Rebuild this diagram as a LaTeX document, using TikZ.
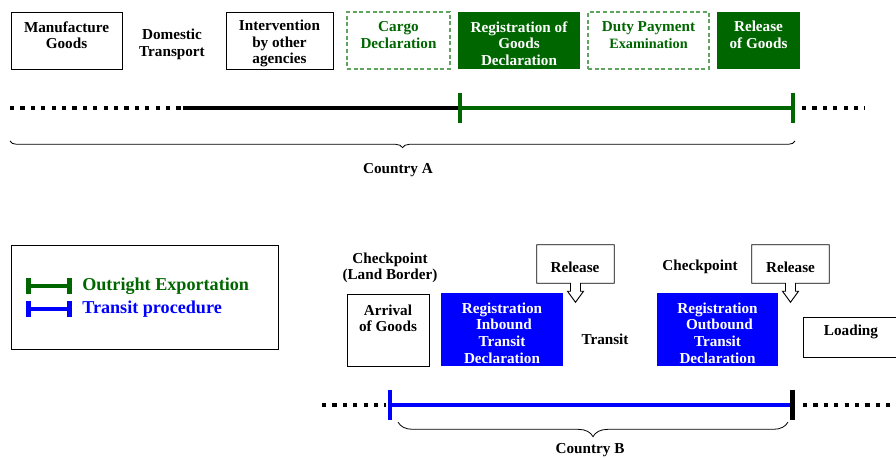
\documentclass[tikz,border=0pt]{standalone}
\usepackage{fontspec}
\setmainfont{Liberation Serif}
\usepackage{xcolor}
\usepackage{tikz}
\usetikzlibrary{calc, fit, arrows.meta, decorations.pathreplacing, positioning}
\definecolor{dgreen}{RGB}{0, 102, 0}
\definecolor{lgreen}{RGB}{95, 165, 95}
\definecolor{pblue}{RGB}{0, 0, 255}
\tikzset{
    boxnode/.style = {draw, rectangle, fill=none, inner sep = 0em, line width=0.7pt},
    dashnode/.style = {draw=lgreen, rectangle, inner sep = 0em, line width=0.8pt, dash pattern=on 3pt off 2pt},
    greennode/.style = {fill=dgreen, rectangle, inner sep = 0em},
    bluenode/.style = {fill=pblue, rectangle, inner sep = 0em},
    textnode/.style = {draw=none, fill=none, rectangle, inner sep = 0em, align=center,
      font=\fontsize{11.4}{12.4}\selectfont\bfseries},
    legendnode/.style = {textnode, anchor=west, font=\fontsize{13.6}{16}\selectfont\bfseries},
    dotline/.style = {line width=3.2pt, dash pattern=on 3.2pt off 4.6pt},
    callout/.style = {line width=0.7pt},
    bracenode/.style = {decorate, line width=0.6pt},
    every text node part/.style={align=center}
}

\begin{document}
\begin{tikzpicture}[x=0.75pt, y=-0.75pt]
\useasboundingbox (0,0) rectangle (896,457);

% Country A
\node [boxnode, name=mfgbox, fit={(11,12) (122,69)}] {};
\node [textnode, name=mfg] at (66.5,35) {Manufacture\\Goods};
\node [textnode, name=dom] at (172,44.5) {Domestic\\Transport};
\node [boxnode, name=agcbox, fit={(226,12) (333,69)}] {};
\node [textnode, name=agc] at (279.5,43.5) {Intervention\\by other\\agencies};
\node [dashnode, name=cargobox, fit={(347,12) (450,69)}] {};
\node [textnode, name=cargo, text=dgreen] at (398.5,35) {Cargo\\Declaration};
\node [greennode, name=regbox, fit={(458,12) (580,69)}] {};
\node [textnode, name=reg, text=white] at (519,43.5) {Registration of\\Goods\\Declaration};
\node [dashnode, name=dutybox, fit={(588,12) (709,69)}] {};
\node [textnode, name=duty, text=dgreen] at (648.5,35) {Duty Payment\\{\fontsize{10.7}{12}\selectfont Examination}};
\node [greennode, name=relbox, fit={(717,12) (800,69)}] {};
\node [textnode, name=rel, text=white] at (758.5,35) {Release\\of Goods};

\coordinate (a0) at (10,108);
\coordinate (a1) at (183,108);
\coordinate (a2) at (458,108);
\coordinate (a3) at (795,108);
\coordinate (a4) at (802,108);
\coordinate (a5) at (865,108);
\draw [dotline] (a0) -- (a1);
\draw [line width=3.5pt] (a1) -- (a2);
\draw [dgreen, line width=2.5pt, {Bar[width=23pt, line width=3pt]}-{Bar[width=23pt, line width=3pt]}] (a2) -- (a3);
\draw [dotline] (a4) -- (a5);

\coordinate (ba0) at (10,141);
\coordinate (ba1) at (795,141);
\draw [bracenode, decoration={brace, mirror, amplitude=5pt}] (ba0) -- (ba1);
\node [textnode, name=ctya] at (398,170) {Country A};

% legend
\node [boxnode, name=legbox, fit={(11,245) (278,349)}] {};
\coordinate (lg0) at (26,286);
\coordinate (lg1) at (72,286);
\coordinate (lb0) at (26,309);
\coordinate (lb1) at (72,309);
\draw [dgreen, line width=3.5pt, {Bar[width=12pt, line width=3.5pt]}-{Bar[width=12pt, line width=3.5pt]}] (lg0) -- (lg1);
\draw [pblue, line width=3.5pt, {Bar[width=12pt, line width=3.5pt]}-{Bar[width=12pt, line width=3.5pt]}] (lb0) -- (lb1);
\node [legendnode, name=legout, text=dgreen] at (82,286) {Outright Exportation};
\node [legendnode, name=legtr, text=pblue] at (82,309) {Transit procedure};

% Country B
\node [textnode, name=chk1] at (390,268) {Checkpoint\\(Land Border)};
\node [boxnode, name=arrbox, fit={(347,294) (429,366)}] {};
\node [textnode, name=arr] at (388,318.5) {Arrival\\of Goods};
\node [bluenode, name=inbox, fit={(441,293) (563,366)}] {};
\node [textnode, name=inb, text=white] at (502,333) {Registration\\\ Inbound\\Transit\\Declaration};
\node [name=rel1, inner sep=0em, fit={(537,245) (614,283)}] {};
\node [textnode, name=rel1txt] at (575,267) {Release};
\draw [callout] (rel1.south west) -- (rel1.north west) -- (rel1.north east) -- (rel1.south east)
  -- ($(rel1.south)+(5,0)$) -- ++(0,8) -- ++(3,0) -- ++(-8,11) -- ++(-8,-11) -- ++(3,0) -- ++(0,-8) -- cycle;
\node [textnode, name=trs] at (605,339) {Transit};
\node [textnode, name=chk2] at (700,267) {Checkpoint};
\node [name=rel2, inner sep=0em, fit={(752,245) (829,283)}] {};
\node [textnode, name=rel2txt] at (790.5,267) {Release};
\draw [callout] (rel2.south west) -- (rel2.north west) -- (rel2.north east) -- (rel2.south east)
  -- ($(rel2.south)+(5,0)$) -- ++(0,8) -- ++(3,0) -- ++(-8,11) -- ++(-8,-11) -- ++(3,0) -- ++(0,-8) -- cycle;
\node [bluenode, name=outbox, fit={(657,293) (778,366)}] {};
\node [textnode, name=outb, text=white] at (717.5,333) {Registration\\\ Outbound\\Transit\\Declaration};
\node [boxnode, name=loadbox, fit={(803,317) (905,357)}] {};
\node [textnode, name=load] at (851,332) {Loading};

\coordinate (b0) at (322,405);
\coordinate (b1) at (386,405);
\coordinate (b2) at (388,405);
\coordinate (b3) at (795,405);
\coordinate (b4) at (803,405);
\coordinate (b5) at (896,405);
\draw [dotline] (b0) -- (b1);
\draw [pblue, line width=3pt, {Bar[width=23pt, line width=3pt]}-{Bar[width=23pt, line width=3.5pt, color=black]}] (b2) -- (b3);
\draw [dotline] (b4) -- (b5);

\coordinate (bb0) at (398,422);
\coordinate (bb1) at (788,422);
\draw [bracenode, decoration={brace, mirror, amplitude=11pt}] (bb0) -- (bb1);
\node [textnode, name=ctyb] at (590,450) {Country B};
% \node [textnode, right of = ctyb] {};
\end{tikzpicture}
\end{document}
